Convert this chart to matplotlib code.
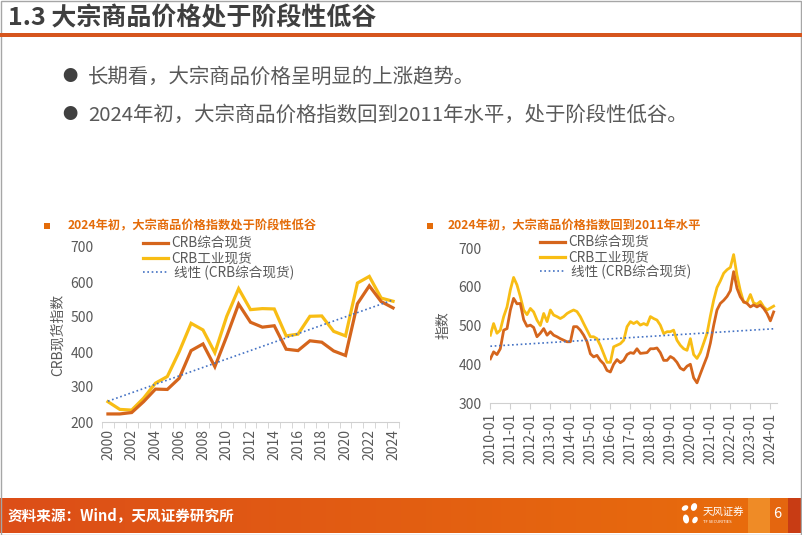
import numpy as np
import pandas as pd
import matplotlib
matplotlib.use("Agg")
import matplotlib.pyplot as plt
import matplotlib.dates as mdates
from matplotlib.patches import Rectangle, Ellipse
from matplotlib.lines import Line2D

plt.rcParams['font.family'] = ['Noto Sans CJK SC', 'DejaVu Sans']

W, H = 802, 535

# ---- data: left chart (annual) ----
years = list(range(2000, 2025))
crb_all_annual = [223, 223, 227, 258, 294, 293, 325, 404, 423, 358, 445, 537, 485,
                  471, 475, 408, 404, 432, 428, 403, 390, 538, 589, 544, 526]
crb_ind_annual = [258, 236, 234, 268, 311, 330, 401, 482, 463, 398, 502, 581, 521,
                  524, 523, 446, 451, 502, 503, 459, 446, 597, 616, 554, 545]

# ---- data: right chart (every two months, 2010-01 .. 2024-03) ----
months = pd.date_range("2010-01-01", "2024-03-01", freq="2MS")
crb_all_m = [414, 432, 425, 440, 488, 492, 540, 570, 556, 557, 515, 498,
             501, 495, 471, 480, 492, 475, 484, 475, 471, 466, 462, 458,
             458, 497, 497, 488, 475, 458, 427, 419, 423, 410, 401, 384,
             380, 400, 412, 404, 410, 425, 430, 428, 440, 428, 429, 430,
             440, 440, 442, 430, 410, 410, 420, 415, 405, 390, 385, 395,
             400, 365, 352, 375, 398, 420, 455, 500, 540, 557, 565, 575,
             590, 639, 596, 574, 561, 557, 548, 553, 548, 553, 544, 531,
             512, 535]
crb_ind_m = [475, 505, 480, 488, 523, 548, 592, 624, 605, 575, 540, 528,
             544, 535, 514, 500, 531, 510, 540, 527, 523, 518, 523, 531,
             536, 540, 536, 523, 505, 488, 471, 471, 466, 449, 427, 405,
             405, 445, 449, 453, 462, 497, 510, 505, 510, 501, 505, 501,
             523, 518, 514, 501, 479, 484, 484, 488, 462, 449, 440, 436,
             466, 425, 415, 430, 455, 480, 525, 565, 598, 615, 635, 644,
             650, 683, 630, 590, 560, 560, 580, 558, 555, 562, 548, 540,
             545, 550]

C_ALL = "#D5651C"
C_IND = "#F8BD14"
C_TREND = "#4472C4"
C_TXT = "#595959"
C_ORANGE = "#E46C0A"


def fx(px):
    return px / W


def fy(py):
    return 1 - py / H


fig = plt.figure(figsize=(W / 100, H / 100), dpi=100)

# slide frame, title and rule
fig.add_artist(Rectangle((0.5 / W, 0.5 / H), 1 - 1.5 / W, 1 - 1.5 / H, transform=fig.transFigure,
                         fill=False, ec="#A6A6A6", lw=1))
fig.text(fx(8), fy(18), "1.3 大宗商品价格处于阶段性低谷", fontsize=18, fontweight="bold",
         color="#3F3F3F", va="center", ha="left")
fig.add_artist(Rectangle((0, fy(37)), 1, 3.5 / H, transform=fig.transFigure,
                         color="#D6551D", lw=0))

bullets = ["长期看，大宗商品价格呈明显的上涨趋势。",
           "2024年初，大宗商品价格指数回到2011年水平，处于阶段性低谷。"]
for i, b in enumerate(bullets):
    y = 77 + 38 * i
    fig.text(fx(70), fy(y), "●", fontsize=11, color="#404040", ha="center", va="center")
    fig.text(fx(88), fy(y), b, fontsize=14.7, color=C_TXT, ha="left", va="center")

# subtitles
subs = [(47, 68, "2024年初，大宗商品价格指数处于阶段性低谷"),
        (430, 448, "2024年初，大宗商品价格指数回到2011年水平")]
for sq, tx, s in subs:
    fig.add_artist(Rectangle((fx(sq - 3), fy(229)), 6 / W, 6 / H, transform=fig.transFigure,
                             color=C_ORANGE, lw=0))
    fig.text(fx(tx), fy(226), s, fontsize=8.8, fontweight="bold", color=C_ORANGE,
             ha="left", va="center")


def style_axes(ax):
    for s in ("top", "right", "left"):
        ax.spines[s].set_visible(False)
    ax.spines["bottom"].set_color("#D0D0D0")
    ax.tick_params(axis="y", length=0, labelsize=10, labelcolor=C_TXT, pad=6)
    ax.tick_params(axis="x", labelsize=10, labelcolor=C_TXT, labelrotation=90, color="#D0D0D0")
    ax.set_facecolor("none")


# ---- left chart ----
axl = fig.add_axes([fx(102), fy(422), fx(399) - fx(102), fy(247) - fy(422)])
yl = np.array(years, dtype=float)
slope, icpt = np.polyfit(yl, crb_all_annual, 1)
axl.plot(yl, crb_ind_annual, color=C_IND, lw=2.3, solid_joinstyle="miter")
axl.plot(yl, crb_all_annual, color=C_ALL, lw=2.3, solid_joinstyle="miter")
axl.plot(yl, slope * yl + icpt, color=C_TREND, lw=1.2, ls=(0, (1, 1.6)))
axl.set_xlim(1999.5, 2024.5)
axl.set_ylim(200, 700)
axl.set_yticks(range(200, 701, 100))
axl.set_xticks(years[::2])
axl.set_xticks(np.arange(1999.5, 2025, 1), minor=True)
style_axes(axl)
axl.tick_params(axis="x", which="major", length=0, pad=5)
axl.tick_params(axis="x", which="minor", length=4, color="#D0D0D0")
axl.set_ylabel("CRB现货指数", fontsize=10, color=C_TXT, labelpad=4)

# ---- right chart ----
axr = fig.add_axes([fx(490), fy(403), fx(777) - fx(490), fy(248) - fy(403)])
mnum = mdates.date2num(months)
slope_r, icpt_r = np.polyfit(mnum, crb_all_m, 1)
axr.plot(months, crb_ind_m, color=C_IND, lw=2.0)
axr.plot(months, crb_all_m, color=C_ALL, lw=2.0)
axr.plot(months, slope_r * mnum + icpt_r, color=C_TREND, lw=1.2, ls=(0, (1, 1.6)))
axr.set_xlim(pd.Timestamp("2009-12-25"), pd.Timestamp("2024-05-01"))
axr.set_ylim(300, 700)
axr.set_yticks(range(300, 701, 100))
axr.set_xticks(pd.date_range("2010-01-01", "2024-01-01", freq="YS"))
axr.xaxis.set_major_formatter(mdates.DateFormatter("%Y-%m"))
style_axes(axr)
axr.tick_params(axis="x", length=4, pad=3)
axr.set_ylabel("指数", fontsize=10, color=C_TXT, labelpad=6)

# legends
handles = [Line2D([], [], color=C_ALL, lw=2.3),
           Line2D([], [], color=C_IND, lw=2.3),
           Line2D([], [], color=C_TREND, lw=1.2, ls=(0, (1, 1.6)))]
labels = ["CRB综合现货", "CRB工业现货", " 线性 (CRB综合现货)"]
for x0, top in ((143, 237), (540, 236)):
    fig.legend(handles, labels, loc="upper left", bbox_to_anchor=(fx(x0), fy(top)),
               bbox_transform=fig.transFigure, frameon=False, fontsize=9.8,
               labelcolor=C_TXT, handlelength=1.8, handletextpad=0.25,
               labelspacing=0.02, borderpad=0, borderaxespad=0)

# ---- footer ----
axf = fig.add_axes([0, fy(533), 1, 35 / H])
grad = np.linspace(0, 1, 256)
c0 = np.array([220, 78, 24]) / 255
c1 = np.array([233, 110, 12]) / 255
img = (c0[None, :] * (1 - grad[:, None]) + c1[None, :] * grad[:, None])[None, :, :]
axf.imshow(img, aspect="auto", extent=(0, W, 0, 35))
axf.add_patch(Rectangle((748, 0), 22, 35, color="#EF8B26", lw=0))
axf.add_patch(Rectangle((770, 0), 18, 35, color="#E4660F", lw=0))
axf.add_patch(Rectangle((788, 0), 14, 35, color="#C83C14", lw=0))
for (ex, ey, ew, eh, ang) in ((685, 25, 7, 5, 30), (694, 26, 6, 8, -20),
                              (686, 14, 6, 9, 10), (695, 13, 5, 7, -30)):
    axf.add_patch(Ellipse((ex, ey), ew, eh, angle=ang, color="white", lw=0))
axf.set_xlim(0, W)
axf.set_ylim(0, 35)
axf.axis("off")
axf.text(8, 18, "资料来源：Wind，天风证券研究所", fontsize=10.5, fontweight="bold",
         color="white", ha="left", va="center")
axf.text(703, 21, "天风证券", fontsize=7.5, color="white", ha="left", va="center")
axf.text(703, 11, "TF SECURITIES", fontsize=3, color="white", ha="left", va="center")
axf.text(777, 19, "6", fontsize=10.5, color="white", ha="center", va="center")

fig.savefig("out.png", dpi=100)
